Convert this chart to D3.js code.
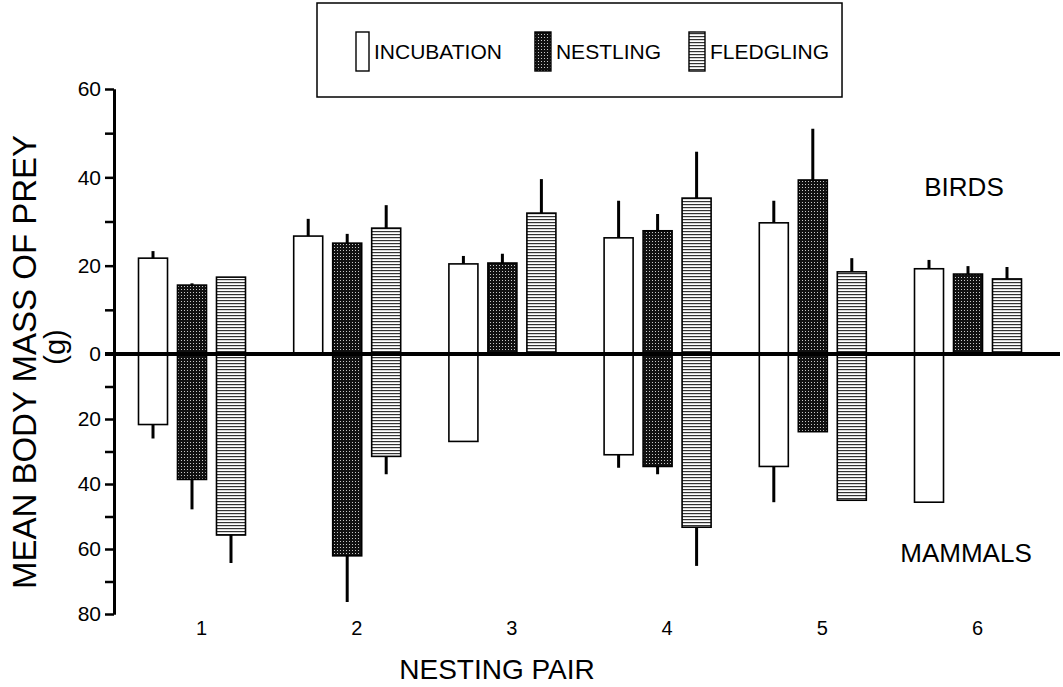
<!DOCTYPE html>
<html>
<head>
<meta charset="utf-8">
<script src="https://cdn.jsdelivr.net/npm/d3@7"></script>
<style>
  html, body { margin: 0; padding: 0; background: #fff; }
  svg { display: block; font-family: "Liberation Sans", Arial, sans-serif; }
</style>
</head>
<body>
<div id="chart"></div>
<script>
// nesting pairs and breeding stages
const pairs  = ["1", "2", "3", "4", "5", "6"];
const stages = ["INCUBATION", "NESTLING", "FLEDGLING"];

// birds (above zero), mean g and SE
const birdIncubation    = [21.7, 26.7, 20.4, 26.3, 29.7, 19.3];
const birdIncubationSE  = [1.6, 3.9, 1.8, 8.4, 5.0, 2.0];
const birdNestling      = [15.6, 25.1, 20.6, 27.9, 39.4, 18.1];
const birdNestlingSE    = [0.4, 2.1, 2.1, 3.8, 11.6, 1.8];
const birdFledgling     = [17.4, 28.5, 31.9, 35.3, 18.6, 17.0];
const birdFledglingSE   = [0, 5.2, 7.7, 10.5, 3.1, 2.7];

// mammals (below zero), mean g and SE
const mammalIncubation   = [21.7, 0, 26.9, 31.0, 34.6, 45.6];
const mammalIncubationSE = [4.3, 0, 0, 4.0, 11.0, 0];
const mammalNestling     = [38.6, 62.1, 0, 34.6, 23.9, 0];
const mammalNestlingSE   = [9.2, 14.2, 0, 2.4, 0, 0];
const mammalFledgling    = [55.7, 31.5, 0, 53.3, 45.0, 0];
const mammalFledglingSE  = [8.6, 5.5, 0, 11.9, 0, 0];

const topTicks = [0, 20, 40, 60];
const topMinor = [10, 30, 50];
const botTicks = [20, 40, 60, 80];
const botMinor = [10, 30, 50, 70];

// build rows for drawing
const birdSets   = [[birdIncubation, birdIncubationSE], [birdNestling, birdNestlingSE], [birdFledgling, birdFledglingSE]];
const mammalSets = [[mammalIncubation, mammalIncubationSE], [mammalNestling, mammalNestlingSE], [mammalFledgling, mammalFledglingSE]];
const bars = [];
stages.forEach((s, si) => {
  pairs.forEach((p, pi) => {
    bars.push({ pair: p, stage: s, side: "bird",   value: birdSets[si][0][pi],   se: birdSets[si][1][pi] });
    bars.push({ pair: p, stage: s, side: "mammal", value: mammalSets[si][0][pi], se: mammalSets[si][1][pi] });
  });
});

const W = 1063, H = 687;
const svg = d3.select("#chart").append("svg")
  .attr("width", W).attr("height", H);

// patterns
const defs = svg.append("defs");
const dots = defs.append("pattern")
  .attr("id", "dots").attr("patternUnits", "userSpaceOnUse")
  .attr("width", 3).attr("height", 3);
dots.append("rect").attr("width", 3).attr("height", 3).attr("fill", "#111");
dots.append("rect").attr("x", 1).attr("y", 1).attr("width", 1).attr("height", 1).attr("fill", "#c8c8c8");

const lines = defs.append("pattern")
  .attr("id", "hlines").attr("patternUnits", "userSpaceOnUse")
  .attr("width", 4).attr("height", 3);
lines.append("rect").attr("width", 4).attr("height", 3).attr("fill", "#fff");
lines.append("rect").attr("y", 0).attr("width", 4).attr("height", 1.2).attr("fill", "#333");

const fillFor = { INCUBATION: "#fff", NESTLING: "url(#dots)", FLEDGLING: "url(#hlines)" };

// scales
const zeroY = 354;
const yTop = d3.scaleLinear().domain([0, 60]).range([zeroY, 89]);
const yBot = d3.scaleLinear().domain([0, 80]).range([zeroY, 614]);
const x = d3.scalePoint().domain(pairs).range([192, 968]);
const xSub = d3.scaleBand().domain(stages).range([-53.5, 53.5]).paddingInner(0.256);
const axisX = 114;

// bars
const drawn = bars.filter(d => d.value > 0);
svg.append("g").selectAll("rect")
  .data(drawn)
  .join("rect")
    .attr("x", d => x(d.pair) + xSub(d.stage))
    .attr("width", xSub.bandwidth())
    .attr("y", d => d.side === "bird" ? yTop(d.value) : zeroY)
    .attr("height", d => d.side === "bird" ? zeroY - yTop(d.value) : yBot(d.value) - zeroY)
    .attr("fill", d => fillFor[d.stage])
    .attr("stroke", "#000")
    .attr("stroke-width", 1.6);

// error whiskers
svg.append("g").selectAll("line")
  .data(drawn.filter(d => d.se > 0))
  .join("line")
    .attr("x1", d => x(d.pair) + xSub(d.stage) + xSub.bandwidth() / 2)
    .attr("x2", d => x(d.pair) + xSub(d.stage) + xSub.bandwidth() / 2)
    .attr("y1", d => d.side === "bird" ? yTop(d.value) : yBot(d.value))
    .attr("y2", d => d.side === "bird" ? yTop(d.value + d.se) : yBot(d.value + d.se))
    .attr("stroke", "#000")
    .attr("stroke-width", 3);

// zero line
svg.append("line")
  .attr("x1", axisX - 9).attr("x2", 1060)
  .attr("y1", zeroY).attr("y2", zeroY)
  .attr("stroke", "#000").attr("stroke-width", 4);

// y axis, top (birds) and bottom (mammals)
function styleAxis(g) {
  g.select(".domain").attr("stroke-width", 3);
  g.selectAll(".tick line").attr("stroke-width", 2.5);
  g.selectAll(".tick text").attr("font-size", 21).attr("fill", "#000")
    .attr("font-family", "Liberation Sans, Arial, sans-serif");
}
svg.append("g")
  .attr("transform", `translate(${axisX},0)`)
  .call(d3.axisLeft(yTop).tickValues(topTicks).tickSize(9).tickSizeOuter(0).tickPadding(4))
  .call(styleAxis);
svg.append("g")
  .attr("transform", `translate(${axisX},0)`)
  .call(d3.axisLeft(yBot).tickValues(botTicks).tickSize(9).tickSizeOuter(0).tickPadding(4))
  .call(styleAxis);
svg.append("g")
  .attr("transform", `translate(${axisX},0)`)
  .call(d3.axisLeft(yTop).tickValues(topMinor).tickSize(9).tickSizeOuter(0).tickFormat(""))
  .call(styleAxis);
svg.append("g")
  .attr("transform", `translate(${axisX},0)`)
  .call(d3.axisLeft(yBot).tickValues(botMinor).tickSize(9).tickSizeOuter(0).tickFormat(""))
  .call(styleAxis);

// x labels
const xAxis = svg.append("g")
  .attr("transform", `translate(9,617)`)
  .call(d3.axisBottom(x).tickSize(0).tickPadding(4));
xAxis.select(".domain").remove();
xAxis.selectAll("text").attr("font-size", 20).attr("fill", "#000")
  .attr("font-family", "Liberation Sans, Arial, sans-serif");

// axis titles
svg.append("text")
  .attr("x", 497).attr("y", 679)
  .attr("text-anchor", "middle")
  .attr("font-size", 28)
  .text("NESTING PAIR");

svg.append("text")
  .attr("transform", "translate(36,362) rotate(-90)")
  .attr("text-anchor", "middle")
  .attr("font-size", 33)
  .text("MEAN BODY MASS OF PREY");
svg.append("text")
  .attr("transform", "translate(65,347) rotate(-90)")
  .attr("text-anchor", "middle")
  .attr("font-size", 29)
  .text("(g)");

// group labels
svg.append("text").attr("x", 964).attr("y", 196)
  .attr("text-anchor", "middle").attr("font-size", 26).text("BIRDS");
svg.append("text").attr("x", 966).attr("y", 562)
  .attr("text-anchor", "middle").attr("font-size", 26).text("MAMMALS");

// legend
const legendBox = svg.append("rect")
  .attr("x", 317).attr("y", 3).attr("height", 94)
  .attr("fill", "#fff").attr("stroke", "#000").attr("stroke-width", 1.5);

const legendSwatchW = [13, 16, 16];
const legendGap = [33, 28];
let lx = 356;
stages.forEach((s, i) => {
  svg.append("rect")
    .attr("x", lx).attr("y", 32).attr("width", legendSwatchW[i]).attr("height", 39)
    .attr("fill", fillFor[s]).attr("stroke", "#000").attr("stroke-width", 1.4);
  const t = svg.append("text")
    .attr("x", lx + legendSwatchW[i] + 5).attr("y", 59)
    .attr("font-size", 21)
    .text(s);
  const end = lx + legendSwatchW[i] + 5 + t.node().getComputedTextLength();
  lx = end + (legendGap[i] || 0);
  if (i === stages.length - 1) legendBox.attr("width", end + 13 - 317);
});
</script>
</body>
</html>
